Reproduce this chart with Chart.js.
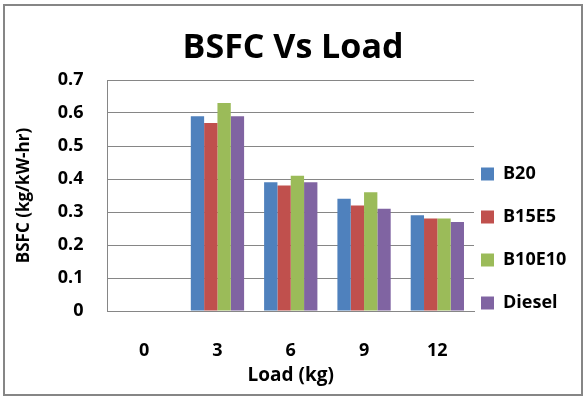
<!DOCTYPE html>
<html><head><meta charset="utf-8">
<script src="https://cdn.jsdelivr.net/npm/chart.js@4.4.1/dist/chart.umd.min.js"></script>
<style>
html,body{margin:0;padding:0;background:#fff;}
#wrap{position:relative;width:586px;height:399px;}
#frame{position:absolute;left:3px;top:4px;width:580px;height:392px;box-sizing:border-box;border:2px solid #868686;pointer-events:none;}
canvas{position:absolute;left:0;top:0;}
</style></head><body>
<div id="wrap"><canvas id="c" width="586" height="399"></canvas><div id="frame"></div></div>
<script>
// ---- data ----
const categories = ['0', '3', '6', '9', '12'];
const seriesNames = ['B20', 'B15E5', 'B10E10', 'Diesel'];
const b20    = [0, 0.59, 0.39, 0.34, 0.29];
const b15e5  = [0, 0.57, 0.38, 0.32, 0.28];
const b10e10 = [0, 0.63, 0.41, 0.36, 0.28];
const diesel = [0, 0.59, 0.39, 0.31, 0.27];
const yTickLabels = ['0', '0.1', '0.2', '0.3', '0.4', '0.5', '0.6', '0.7'];
const titleText = 'BSFC Vs Load';
const xTitle = 'Load (kg)';
const yTitle = 'BSFC (kg/kW-hr)';

// ---- styles ----
const colors = ['#4F81BD', '#C0504D', '#9BBB59', '#8064A2'];
const FONT = '"Open Sans"';
const gridColor = '#868686';

const legendShift = {
  id: 'legendShift',
  afterLayout(chart) {
    const lg = chart.legend;
    if (!lg) return;
    const dx = (chart.chartArea.right + 7) - (lg.left + lg.options.labels.padding);
    lg.left += dx; lg.right += dx;
    const dy = 43;
    lg.top += dy; lg.bottom += dy;
  }
};

function build() {
  const values = [b20, b15e5, b10e10, diesel];
  const datasets = seriesNames.map((n, i) => ({
    label: n,
    data: values[i],
    backgroundColor: colors[i],
    borderWidth: 0,
    categoryPercentage: 0.727,
    barPercentage: 1.0
  }));
  new Chart(document.getElementById('c'), {
    type: 'bar',
    data: { labels: categories, datasets },
    plugins: [legendShift],
    options: {
      responsive: false,
      animation: false,
      devicePixelRatio: 1,
      layout: { padding: { left: 0, right: 0, top: 0, bottom: 0 } },
      plugins: {
        title: {
          display: true, text: titleText, color: '#000',
          font: { family: FONT, size: 34, weight: 'bold', lineHeight: 1.2 },
          padding: { top: 28, bottom: 11.2 }
        },
        legend: {
          position: 'right',
          fullSize: false,
          maxWidth: 112,
          labels: {
            boxWidth: 13, boxHeight: 13, padding: 25, color: '#000',
            font: { family: FONT, size: 18, weight: 'bold' }
          }
        },
        tooltip: { enabled: false }
      },
      scales: {
        x: {
          grid: { display: false },
          border: { display: true, color: gridColor, width: 1 },
          ticks: { color: '#000', padding: 21, font: { family: FONT, size: 18, weight: 'bold' } },
          title: { display: true, text: xTitle, color: '#000', padding: { top: 0, bottom: 12 },
                   font: { family: FONT, size: 19, weight: 'bold', lineHeight: 1.2 } },
          afterFit(s) { s.height = 88; }
        },
        y: {
          min: 0, max: 0.7,
          grid: { color: gridColor, lineWidth: 1, drawTicks: false },
          border: { display: true, color: gridColor, width: 1 },
          ticks: {
            stepSize: 0.1, padding: 24, color: '#000',
            font: { family: FONT, size: 18, weight: 'bold' },
            callback: (v, i) => yTickLabels[i]
          },
          title: { display: true, text: yTitle, color: '#000', padding: { top: 13.8, bottom: 0 },
                   font: { family: FONT, size: 17, weight: 'bold', lineHeight: 1.2 } },
          afterFit(s) { s.width = 107.5; }
        }
      }
    }
  });
}
if (document.fonts && document.fonts.load) {
  Promise.all([document.fonts.load('bold 18px "Open Sans"'), document.fonts.load('bold 34px "Open Sans"')]).then(build, build);
} else build();
</script>
</body></html>
